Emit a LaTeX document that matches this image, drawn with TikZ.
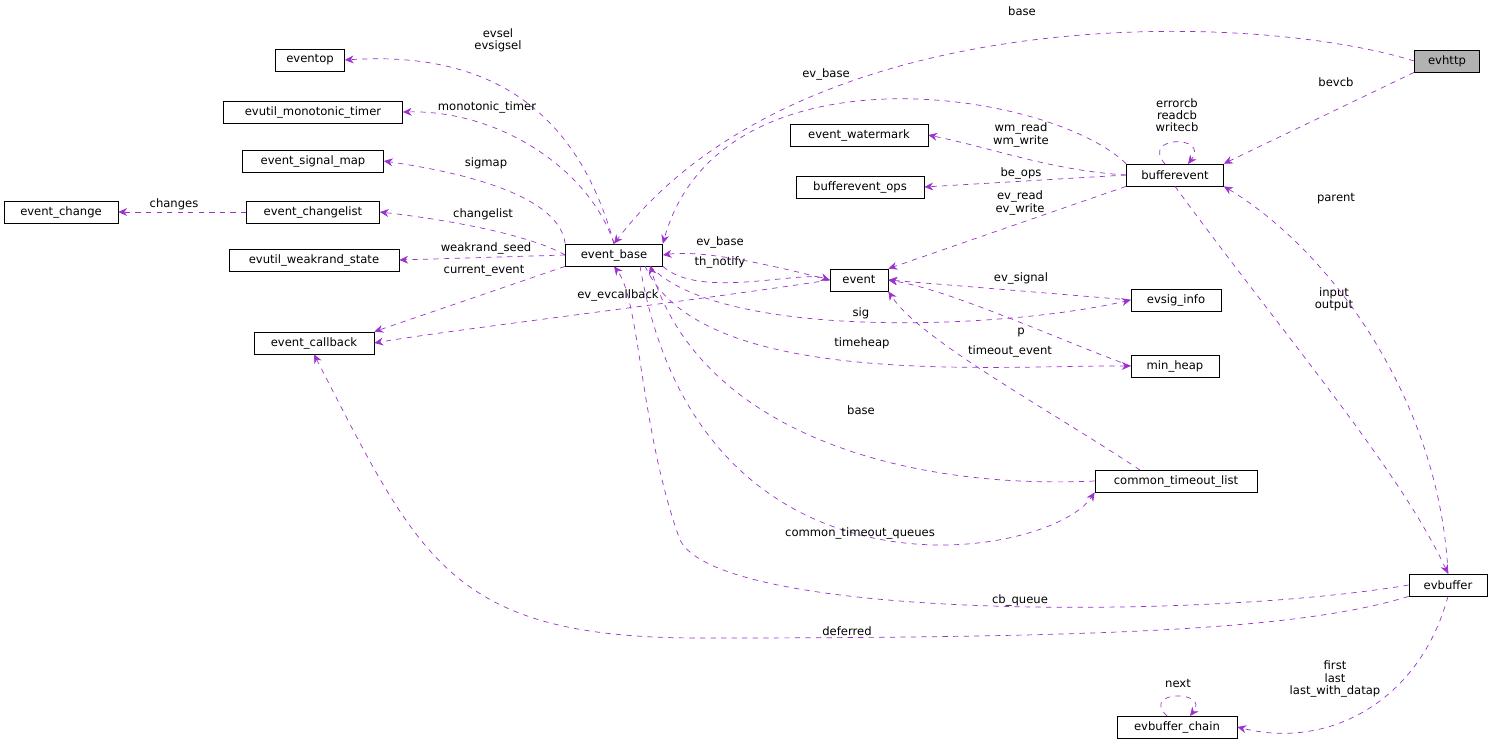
\documentclass[tikz,border=0pt]{standalone}
\usepackage{fontspec}
\setmainfont{DejaVu Sans}
\usetikzlibrary{arrows.meta}
\tikzset{
  cls/.style={draw=black,fill=white,inner sep=0pt,minimum height=22*0.02cm,font=\fontsize{6.6}{7}\selectfont},
  rel/.style={draw={rgb,255:red,154;green,50;blue,205},dashed,thin,-{Stealth[length=5pt,width=4.5pt]}},
  lbl/.style={font=\fontsize{6.6}{7}\selectfont,inner sep=0pt,align=center}
}
\begin{document}
\begin{tikzpicture}[x=0.02cm,y=-0.02cm]
    \useasboundingbox (0,0) rectangle (1492,748);

    \node[cls,fill=gray!60,minimum width=65*0.02cm] (evhttp) at (1447,61) {evhttp};
    \node[cls,minimum width=97*0.02cm] (bev) at (1175,175) {bufferevent};
    \node[cls,minimum width=69*0.02cm] (eventop) at (310,60) {eventop};
    \node[cls,minimum width=179*0.02cm] (mono) at (313,112) {evutil\_monotonic\_timer};
    \node[cls,minimum width=141*0.02cm] (sigmap) at (313,161) {event\_signal\_map};
    \node[cls,minimum width=114*0.02cm] (change) at (61,212) {event\_change};
    \node[cls,minimum width=133*0.02cm] (changelist) at (313,212) {event\_changelist};
    \node[cls,minimum width=170*0.02cm] (weakrand) at (314,260) {evutil\_weakrand\_state};
    \node[cls,minimum width=120*0.02cm] (callback) at (314,343) {event\_callback};
    \node[cls,minimum width=97*0.02cm] (base) at (614,255) {event\_base};
    \node[cls,minimum width=138*0.02cm] (watermark) at (859,135) {event\_watermark};
    \node[cls,minimum width=128*0.02cm] (bevops) at (860,187) {bufferevent\_ops};
    \node[cls,minimum width=58*0.02cm] (event) at (859,280) {event};
    \node[cls,minimum width=90*0.02cm] (evsig) at (1176,300) {evsig\_info};
    \node[cls,minimum width=88*0.02cm] (minheap) at (1175,366) {min\_heap};
    \node[cls,minimum width=162*0.02cm] (ctl) at (1176,481) {common\_timeout\_list};
    \node[cls,minimum width=78*0.02cm] (evbuf) at (1448,585) {evbuffer};
    \node[cls,minimum width=120*0.02cm] (chain) at (1177,727) {evbuffer\_chain};

    % evhttp
    \draw[rel] (evhttp.west) .. controls (1250,10) and (800,0) .. (base.north);
    \node[lbl] (l1) at (1022,11) {base};
    \draw[rel] (evhttp.south west) -- (bev.north east);
    \node[lbl] (l2) at (1336,82) {bevcb};

    % bufferevent
    \draw[rel] (bev.north west) .. controls (1050,90) and (720,40) .. (base.north east);
    \node[lbl] (l3) at (826,74) {ev\_base};
    \draw[rel] (1165,164) .. controls (1140,135) and (1210,135) .. (1188,164);
    \node[lbl] (l4) at (1177,115) {errorcb\\readcb\\writecb};
    \draw[rel] (bev.west) .. controls (1050,170) and (1000,150) .. (watermark.east);
    \node[lbl] (l5) at (1021,135) {wm\_read\\wm\_write};
    \draw[rel] (bev.west) -- (bevops.east);
    \node[lbl] (l6) at (1021,173) {be\_ops};
    \draw[rel] (bev.south west) -- (event.north east);
    \node[lbl] (l7) at (1020,203) {ev\_read\\ev\_write};
    \draw[rel] (bev.south) .. controls (1280,330) and (1400,470) .. (evbuf.north);
    \node[lbl] (l8) at (1334,299) {input\\output};

    % event_base
    \draw[rel] (base.north) .. controls (580,120) and (500,50) .. (eventop.east);
    \node[lbl] (l9) at (498,40) {evsel\\evsigsel};
    \draw[rel] (base.north) .. controls (590,170) and (500,110) .. (mono.east);
    \node[lbl] (l10) at (487,107) {monotonic\_timer};
    \draw[rel] (base.north west) .. controls (560,200) and (480,175) .. (sigmap.east);
    \node[lbl] (l11) at (486,163) {sigmap};
    \draw[rel] (base.west) .. controls (530,235) and (450,220) .. (changelist.east);
    \node[lbl] (l12) at (483,214) {changelist};
    \draw[rel] (changelist.west) -- (change.east);
    \node[lbl] (l13) at (174,204) {changes};
    \draw[rel] (base.west) -- (weakrand.east);
    \node[lbl] (l14) at (486,248) {weakrand\_seed};
    \draw[rel] (base.south west) -- (callback.north east);
    \node[lbl] (l15) at (484,271) {current\_event};
    \draw[rel] (base.south east) .. controls (700,300) and (800,270) .. (event.west);
    \node[lbl] (l16) at (720,262) {th\_notify};
    \draw[rel] (650,266) .. controls (720,340) and (1000,330) .. (evsig.west);
    \node[lbl] (l17) at (861,313) {sig};
    \draw[rel] (645,266) .. controls (700,390) and (1000,365) .. (minheap.west);
    \node[lbl] (l18) at (862,343) {timeheap};
    \draw[rel] (640,266) .. controls (700,620) and (1050,560) .. (ctl.south west);
    \node[lbl] (l19) at (860,533) {common\_timeout\_queues};

    % event
    \draw[rel] (event.west) .. controls (760,262) and (700,250) .. (base.east);
    \node[lbl] (l20) at (720,242) {ev\_base};
    \draw[rel] (event.west) .. controls (700,300) and (450,330) .. (callback.east);
    \node[lbl] (l21) at (618,295) {ev\_evcallback};
    \draw[rel] (evsig.west) -- (event.east);
    \node[lbl] (l22) at (1021,278) {ev\_signal};
    \draw[rel] (minheap.west) .. controls (1060,340) and (950,290) .. (event.east);
    \node[lbl] (l23) at (1021,332) {p};
    \draw[rel] (1140,470) .. controls (1050,410) and (920,340) .. (event.south east);
    \node[lbl] (l24) at (1010,351) {timeout\_event};
    \draw[rel] (ctl.west) .. controls (900,490) and (700,430) .. (650,266);
    \node[lbl] (l25) at (861,410) {base};

    % evbuffer
    \draw[rel] (evbuf.north) .. controls (1440,400) and (1330,250) .. (bev.south east);
    \node[lbl] (l26) at (1336,199) {parent};
    \draw[rel] (evbuf.west) .. controls (1200,620) and (720,620) .. (680,540) .. controls (640,430) and (640,300) .. (base.south);
    \node[lbl] (l27) at (1020,600) {cb\_queue};
    \draw[rel] (evbuf.south west) .. controls (1300,630) and (1100,638) .. (700,638) .. controls (450,638) and (420,560) .. (callback.south);
    \node[lbl] (l28) at (847,631) {deferred};
    \draw[rel] (evbuf.south) .. controls (1420,700) and (1330,750) .. (chain.east);
    \node[lbl] (l29) at (1335,679) {first\\last\\last\_with\_datap};
    \draw[rel] (1167,716) .. controls (1140,690) and (1210,690) .. (1190,716);
    \node[lbl] (l30) at (1178,684) {next};
\end{tikzpicture}
\end{document}
